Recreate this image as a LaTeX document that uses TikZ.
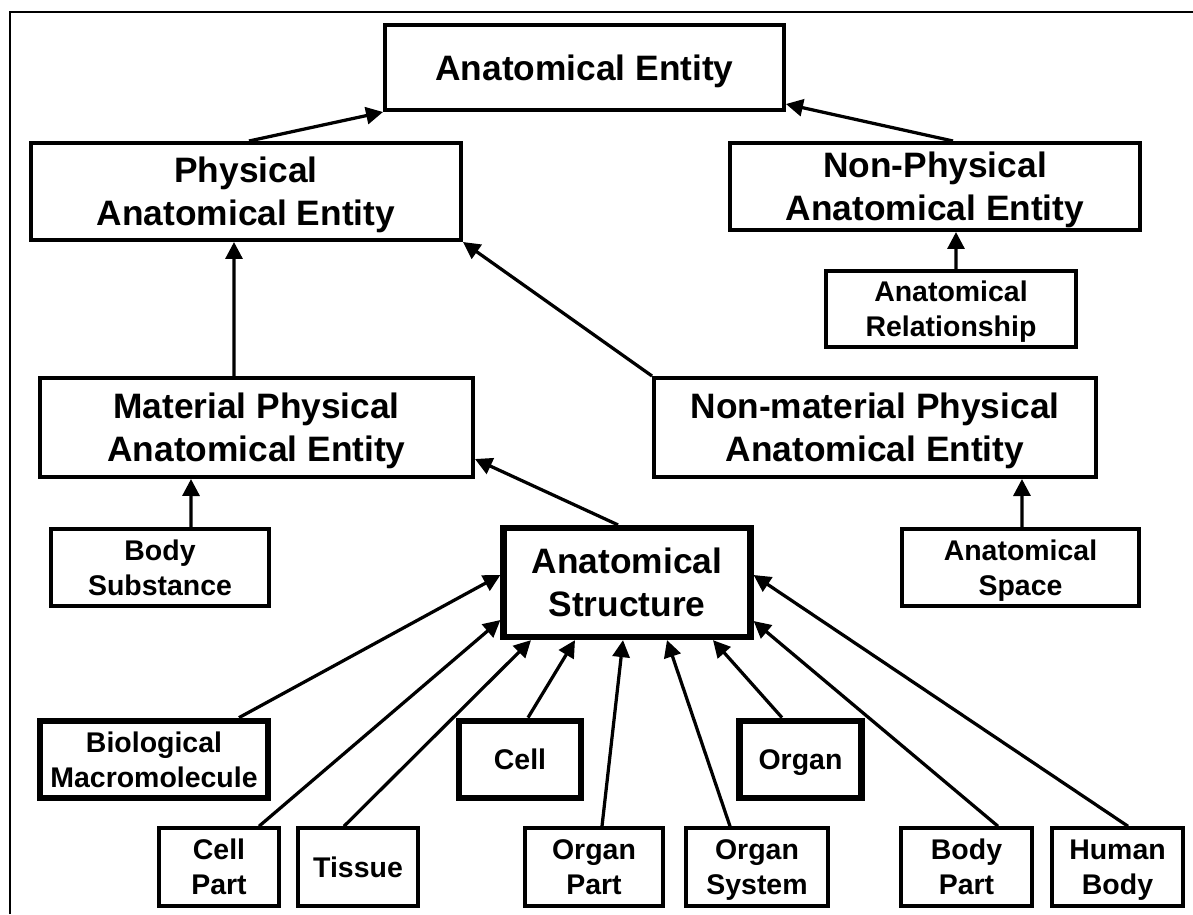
\documentclass[tikz,border=0pt]{standalone}
\usepackage{fontspec}
\setmainfont{Liberation Sans}
\usepackage{tikz}
\usetikzlibrary{arrows.meta}

\begin{document}
\begin{tikzpicture}[
    x = 0.02cm, y = -0.02cm,
    > = {Triangle[length=0.34cm, width=0.34cm]},
    line width = 0.065cm,
    box/.style={rectangle, draw, line width=0.08cm, inner sep=0pt, align=center, text depth=0pt,
        font=\bfseries\fontsize{20.1}{24.4}\selectfont},
    smallbox/.style={box, minimum height=1.55cm, font=\bfseries\fontsize{16.2}{19.8}\selectfont},
    corebox/.style={line width=0.125cm}
]
    \useasboundingbox (0,0) rectangle (1193,914);
    \draw[line width=0.04cm] (10,914) |- (1193,12);

    \node[box, minimum width=7.98cm, minimum height=1.7cm] (ae) at (584.5,67.5) {Anatomical Entity};
    \node[box, minimum width=8.6cm, minimum height=1.94cm] (pae) at (246,191.5) {Physical\\Anatomical Entity};
    \node[box, minimum width=8.2cm, minimum height=1.74cm] (npae) at (935,186.5) {Non-Physical\\Anatomical Entity};
    \node[smallbox, minimum width=5cm, minimum height=1.52cm] (ar) at (951,309) {Anatomical\\Relationship};
    \node[box, minimum width=8.66cm, minimum height=1.98cm] (mpae) at (256.5,427.5) {Material Physical\\Anatomical Entity};
    \node[box, minimum width=8.84cm, minimum height=1.98cm] (nmpae) at (875,427.5) {Non-material Physical\\Anatomical Entity};
    \node[smallbox, minimum width=4.36cm] (bs) at (160,567.5) {Body\\Substance};
    \node[box, corebox, minimum width=4.94cm, minimum height=2.18cm] (as) at (627,582.5) {Anatomical\\Structure};
    \node[smallbox, minimum width=4.74cm] (asp) at (1020.5,567.5) {Anatomical\\Space};
    \node[smallbox, corebox, minimum width=4.56cm] (bm) at (154,759.5) {Biological\\Macromolecule};
    \node[smallbox, corebox, minimum width=2.44cm] (cell) at (520,759.5) {Cell};
    \node[smallbox, corebox, minimum width=2.44cm] (organ) at (800.5,759.5) {Organ};
    \node[smallbox, minimum width=2.4cm] (cp) at (219,867) {Cell\\Part};
    \node[smallbox, minimum width=2.4cm] (tis) at (358,867) {Tissue};
    \node[smallbox, minimum width=2.76cm] (op) at (594,867) {Organ\\Part};
    \node[smallbox, minimum width=2.84cm] (os) at (757,867) {Organ\\System};
    \node[smallbox, minimum width=2.62cm] (bp) at (966.5,867) {Body\\Part};
    \node[smallbox, minimum width=2.62cm] (hb) at (1117.5,867) {Human\\Body};

    \path[->]
        ([xshift=0.06cm]pae.north) edge (ae.south west)
        ([xshift=0.36cm]npae.north) edge ([yshift=0.16cm]ae.south east)
        ([xshift=-0.45cm]mpae.north) edge ([xshift=-0.24cm]pae.south)
        ([xshift=0.1cm]ar.north) edge ([xshift=0.42cm]npae.south)
        (nmpae.north west) edge (pae.south east)
        ([xshift=-0.18cm]as.north) edge ([yshift=0.4cm]mpae.south east)
        ([xshift=0.62cm]bs.north) edge ([xshift=-1.31cm]mpae.south)
        ([xshift=0.03cm]asp.north) edge ([xshift=2.94cm]nmpae.south)
        ([xshift=1.7cm]bm.north) edge ([yshift=0.15cm]as.west)
        ([xshift=0.8cm]cp.north) edge ([yshift=-0.75cm]as.west)
        ([xshift=-0.28cm]tis.north) edge ([xshift=-1.92cm]as.south)
        ([xshift=0.16cm]cell.north) edge ([xshift=-1.04cm]as.south)
        ([xshift=0.16cm]op.north) edge ([xshift=-0.08cm]as.south)
        ([xshift=-0.54cm]os.north) edge ([xshift=0.8cm]as.south)
        ([xshift=-0.37cm]organ.north) edge ([xshift=1.72cm]as.south)
        ([xshift=0.63cm]bp.north) edge ([yshift=-0.77cm]as.east)
        ([xshift=0.21cm]hb.north) edge ([yshift=0.15cm]as.east);
\end{tikzpicture}
\end{document}
